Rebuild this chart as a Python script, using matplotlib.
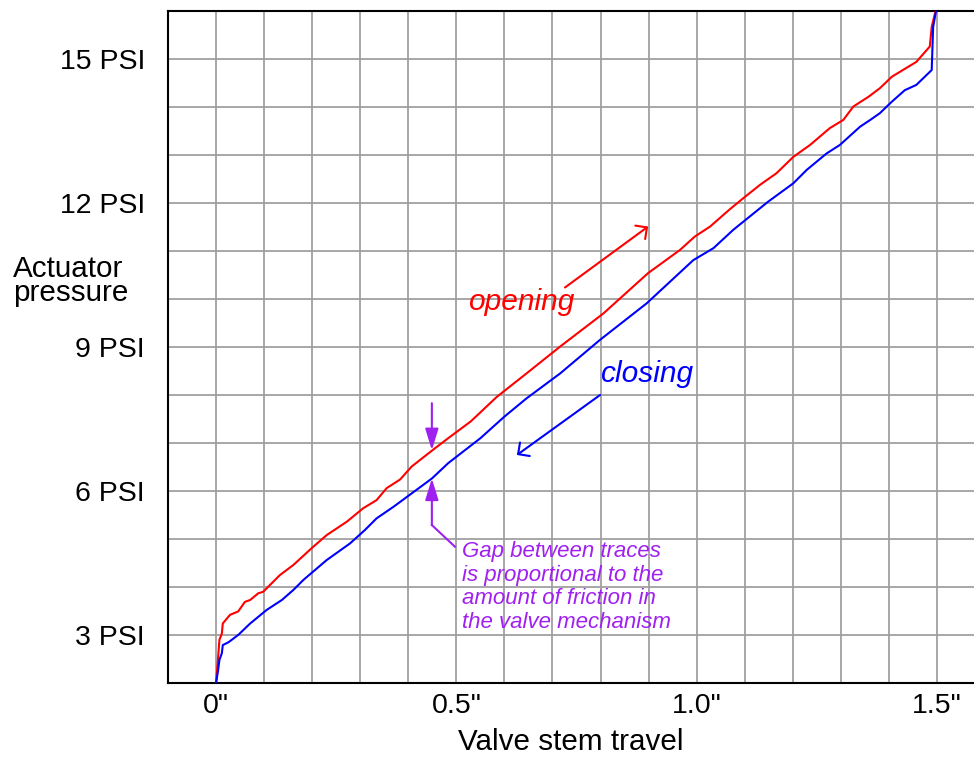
import matplotlib
matplotlib.use("Agg")
import matplotlib.pyplot as plt
from matplotlib.ticker import MultipleLocator

plt.rcParams['font.family'] = ['Liberation Sans', 'DejaVu Sans']

# ---- data ----
open_x = [0.0, 0.004, 0.007, 0.012, 0.014, 0.029, 0.046, 0.060, 0.071, 0.088, 0.098,
          0.123, 0.133, 0.161, 0.199, 0.230, 0.272, 0.306, 0.334, 0.355, 0.383, 0.407,
          0.449, 0.483, 0.530, 0.584, 0.646, 0.716, 0.806, 0.899, 0.965, 0.996, 1.028,
          1.069, 1.097, 1.132, 1.166, 1.201, 1.236, 1.277, 1.305, 1.326, 1.357, 1.381,
          1.406, 1.457, 1.485, 1.489, 1.497]
open_y = [2.0, 2.5, 2.9, 3.03, 3.24, 3.42, 3.49, 3.69, 3.73, 3.87, 3.90,
          4.15, 4.25, 4.46, 4.81, 5.08, 5.36, 5.64, 5.81, 6.06, 6.24, 6.51,
          6.84, 7.10, 7.45, 7.96, 8.45, 9.01, 9.70, 10.54, 11.02, 11.30, 11.51,
          11.87, 12.10, 12.38, 12.62, 12.96, 13.21, 13.56, 13.73, 14.01, 14.21, 14.39,
          14.63, 14.94, 15.26, 15.67, 16.0]

close_x = [0.0, 0.004, 0.007, 0.012, 0.014, 0.026, 0.046, 0.071, 0.105, 0.137, 0.161,
           0.182, 0.230, 0.279, 0.310, 0.334, 0.369, 0.407, 0.449, 0.483, 0.550, 0.600,
           0.646, 0.716, 0.799, 0.896, 0.993, 1.035, 1.076, 1.118, 1.149, 1.201, 1.229,
           1.270, 1.298, 1.340, 1.361, 1.381, 1.406, 1.433, 1.457, 1.489, 1.492, 1.498]
close_y = [2.0, 2.25, 2.48, 2.62, 2.79, 2.85, 3.0, 3.24, 3.52, 3.73, 3.94,
           4.15, 4.56, 4.91, 5.19, 5.43, 5.67, 5.95, 6.26, 6.58, 7.10, 7.55,
           7.93, 8.45, 9.15, 9.91, 10.81, 11.06, 11.44, 11.78, 12.03, 12.41, 12.69,
           13.03, 13.21, 13.59, 13.73, 13.87, 14.11, 14.35, 14.46, 14.77, 15.67, 16.0]

x_ticks = [0.0, 0.5, 1.0, 1.5]
x_tick_labels = ['0"', '0.5"', '1.0"', '1.5"']
y_ticks = [3, 6, 9, 12, 15]
y_tick_labels = ['3 PSI', '6 PSI', '9 PSI', '12 PSI', '15 PSI']

note_lines = ["Gap between traces", "is proportional to the",
              "amount of friction in", "the valve mechanism"]

PURPLE = '#A020F0'

W, H = 974, 757
fig = plt.figure(figsize=(W / 100, H / 100), dpi=100)
ax = fig.add_axes([168 / W, (H - 683) / H, (W - 168) / W, 672 / H])

ax.set_xlim(-0.1, 1.577)
ax.set_ylim(2, 16)

ax.set_xticks(x_ticks)
ax.set_xticklabels(x_tick_labels)
ax.xaxis.set_minor_locator(MultipleLocator(0.1))
ax.set_yticks(y_ticks)
ax.set_yticklabels(y_tick_labels)
ax.yaxis.set_minor_locator(MultipleLocator(1))
ax.grid(True, which='both', color='#a0a0a0', linewidth=1.3, zorder=0)
ax.set_axisbelow(True)
ax.tick_params(which='both', length=0)
ax.tick_params(axis='x', labelsize=20.5, pad=7)
ax.tick_params(axis='y', labelsize=20.5, pad=16.5)

for s in ['left', 'bottom', 'top']:
    ax.spines[s].set_linewidth(1.5)
    ax.spines[s].set_color('black')
ax.spines['right'].set_visible(False)

ax.plot(open_x, open_y, color='red', lw=1.5, zorder=3, clip_on=True)
ax.plot(close_x, close_y, color='blue', lw=1.5, zorder=3, clip_on=True)

# labels
ax.set_xlabel('Valve stem travel', fontsize=21.3, va='baseline')
ax.xaxis.set_label_coords(0.5, (683 - 750) / 672)
fig.text(13 / W, 1 - 281 / H, 'Actuator\npressure', fontsize=21.3, ha='left',
         va='center', linespacing=0.78)

# opening / closing annotations
ax.text(0.634, 9.77, 'opening', color='red', fontsize=21.5, style='italic',
        ha='center', va='baseline')
ax.annotate('', xy=(0.899, 11.51), xytext=(0.726, 10.24),
            arrowprops=dict(arrowstyle='->,head_length=0.6,head_width=0.6',
                            mutation_scale=10, color='red', lw=1.5,
                            shrinkA=0, shrinkB=0))
ax.text(0.896, 8.28, 'closing', color='blue', fontsize=21.5, style='italic',
        ha='center', va='baseline')
ax.annotate('', xy=(0.626, 6.75), xytext=(0.799, 8.0),
            arrowprops=dict(arrowstyle='->,head_length=0.6,head_width=0.6',
                            mutation_scale=10, color='blue', lw=1.5,
                            shrinkA=0, shrinkB=0))

# friction gap annotation
ax.annotate('', xy=(0.449, 6.85), xytext=(0.449, 7.83),
            arrowprops=dict(arrowstyle='-|>,head_length=1.3,head_width=0.4',
                            mutation_scale=10, color=PURPLE, lw=1.5,
                            shrinkA=0, shrinkB=0))
ax.annotate('', xy=(0.449, 6.26), xytext=(0.449, 5.29),
            arrowprops=dict(arrowstyle='-|>,head_length=1.3,head_width=0.4',
                            mutation_scale=10, color=PURPLE, lw=1.5,
                            shrinkA=0, shrinkB=0))
ax.plot([0.449, 0.497], [5.29, 4.84], color=PURPLE, lw=1.5, zorder=3)
for i, line in enumerate(note_lines):
    ax.text(0.512, 4.63 - i * 0.497, line, color=PURPLE, fontsize=16,
            style='italic', ha='left', va='baseline')

fig.savefig('out.png', dpi=100)
